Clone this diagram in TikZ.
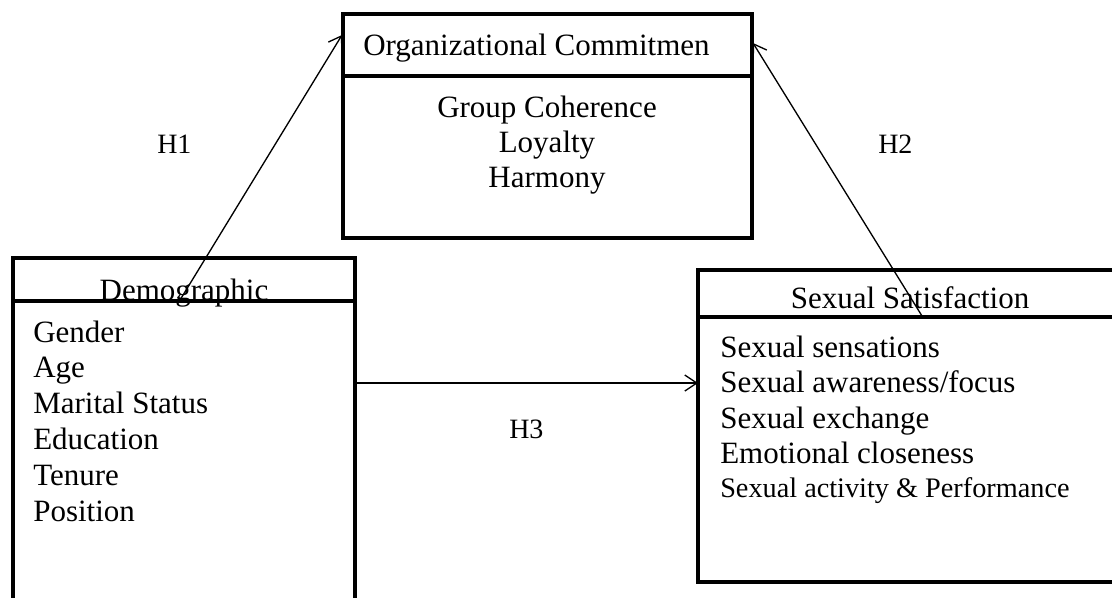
\documentclass[tikz,border=0pt]{standalone}
\usepackage{fontspec}
\setmainfont{Liberation Serif}
\usetikzlibrary{arrows.meta}
\begin{document}
\begin{tikzpicture}[x=0.75pt,y=-0.75pt,
  frame/.style={draw, line width=3.4pt, inner sep=0pt, outer sep=0pt},
  divider/.style={line width=3.4pt},
  link/.style={line width=1pt, -{Straight Barb[length=9pt,width=12pt,line width=1pt]}},
  bodytxt/.style={font=\fontsize{23.25pt}{26pt}\selectfont, inner sep=0pt},
  smalltxt/.style={font=\fontsize{21.2pt}{24pt}\selectfont, inner sep=0pt},
  hyp/.style={font=\fontsize{21pt}{24pt}\selectfont, inner sep=0pt, anchor=base west}]
\useasboundingbox (0,0) rectangle (1112,597);
\clip (0,0) rectangle (1112,597);

% frames
\node[frame, minimum width=306.75pt, minimum height=168pt] (oc) at (547.5,126) {};
\node[frame, minimum width=256.5pt, minimum height=279pt] (demo) at (184,444) {};
\node[frame, minimum width=324pt, minimum height=234pt] (sat) at (914,426) {};

% header dividers
\draw[divider] (oc.west |- 0,76) -- (oc.east |- 0,76);
\draw[divider] (demo.west |- 0,301) -- (demo.east |- 0,301);
\draw[divider] (sat.west |- 0,317) -- (sat.east |- 0,317);

% organizational commitment
\node[bodytxt, anchor=base west] (octitle) at (363,55) {Organizational Commitmen};
\node[bodytxt, anchor=base] (oc1) at (547,117) {Group Coherence};
\node[bodytxt, anchor=base] (oc2) at (547,152) {Loyalty};
\node[bodytxt, anchor=base] (oc3) at (547,187) {Harmony};

% demographic
\node[bodytxt, anchor=base] (demotitle) at (184,300) {Demographic};
\foreach \t [count=\i] in {Gender,Age,Marital Status,Education,Tenure,Position}
  \node[bodytxt, anchor=base west] (d\i) at (33,{342+35.8*(\i-1)}) {\t};

% sexual satisfaction
\node[bodytxt, anchor=base] (sattitle) at (910,308) {Sexual Satisfaction};
\foreach \t [count=\i] in {Sexual sensations,Sexual awareness/focus,Sexual exchange,Emotional closeness}
  \node[bodytxt, anchor=base west] (s\i) at (720,{357+35.5*(\i-1)}) {\t};
\node[smalltxt, anchor=base west] (s5) at (720,497) {Sexual activity \& Performance};

% hypothesis labels
\node[hyp] (h1) at (157,153) {H1};
\node[hyp] (h2) at (878,153) {H2};
\node[hyp] (h3) at (509,438) {H3};

% hypothesised paths
\coordinate (h1s) at (180,300);
\coordinate (h1e) at (342,35);
\coordinate (h2s) at (922,316);
\coordinate (h2e) at (753,43);
\draw[link] (h1s) -- (h1e);
\draw[link] (h2s) -- (h2e);
\draw[link] (demo.east |- 0,383) -- (sat.west |- 0,383);
\end{tikzpicture}
\end{document}
